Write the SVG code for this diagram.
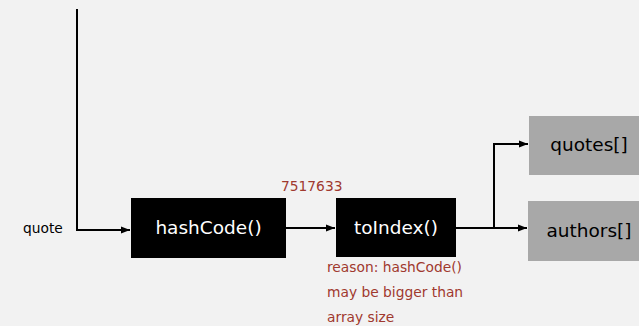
<svg xmlns="http://www.w3.org/2000/svg" width="639" height="326" viewBox="0 0 639 326">
  <style>
    .wire { fill: none; stroke: #000; stroke-width: 2; }
    .fn rect { fill: #000; }
    .fn text { fill: #fff; font-family: "DejaVu Sans", sans-serif; font-size: 18.5px; text-anchor: middle; }
    .arr rect { fill: #a8a8a8; }
    .arr text { fill: #000; font-family: "DejaVu Sans", sans-serif; font-size: 18.5px; text-anchor: middle; }
    .label { font-family: "DejaVu Sans", sans-serif; font-size: 13.8px; }
    .note { fill: #a0392e; }
  </style>
  <defs>
    <marker id="head" markerWidth="9" markerHeight="8" refX="9" refY="4" orient="auto" markerUnits="userSpaceOnUse">
      <path d="M0,0.5 L9,4 L0,7.5 Z" fill="#000"/>
    </marker>
  </defs>
  <rect width="639" height="326" fill="#f2f2f2"/>

  <!-- input key -->
  <text class="label" x="23" y="233">quote</text>

  <!-- connectors -->
  <g id="connectors">
    <path class="wire" d="M77,9 V230 H130" marker-end="url(#head)"/>
    <path class="wire" d="M286,228 H335" marker-end="url(#head)"/>
    <path class="wire" d="M456,228 H527" marker-end="url(#head)"/>
    <path class="wire" d="M494,228 V144 H528" marker-end="url(#head)"/>
  </g>

  <!-- hash function -->
  <g id="hashCode" class="fn">
    <rect x="131" y="198" width="155" height="60"/>
    <text x="208.5" y="234">hashCode()</text>
  </g>
  <text class="label note" x="281" y="191">7517633</text>

  <!-- index reduction -->
  <g id="toIndex" class="fn">
    <rect x="336" y="198" width="120" height="59"/>
    <text x="396" y="234">toIndex()</text>
  </g>
  <g class="label note">
    <text x="327" y="272">reason: hashCode()</text>
    <text x="327" y="297">may be bigger than</text>
    <text x="327" y="322">array size</text>
  </g>

  <!-- parallel arrays -->
  <g id="quotes" class="arr">
    <rect x="529" y="116" width="110" height="59"/>
    <text x="589" y="151">quotes[]</text>
  </g>
  <g id="authors" class="arr">
    <rect x="528" y="201" width="111" height="60"/>
    <text x="589" y="237">authors[]</text>
  </g>
</svg>
